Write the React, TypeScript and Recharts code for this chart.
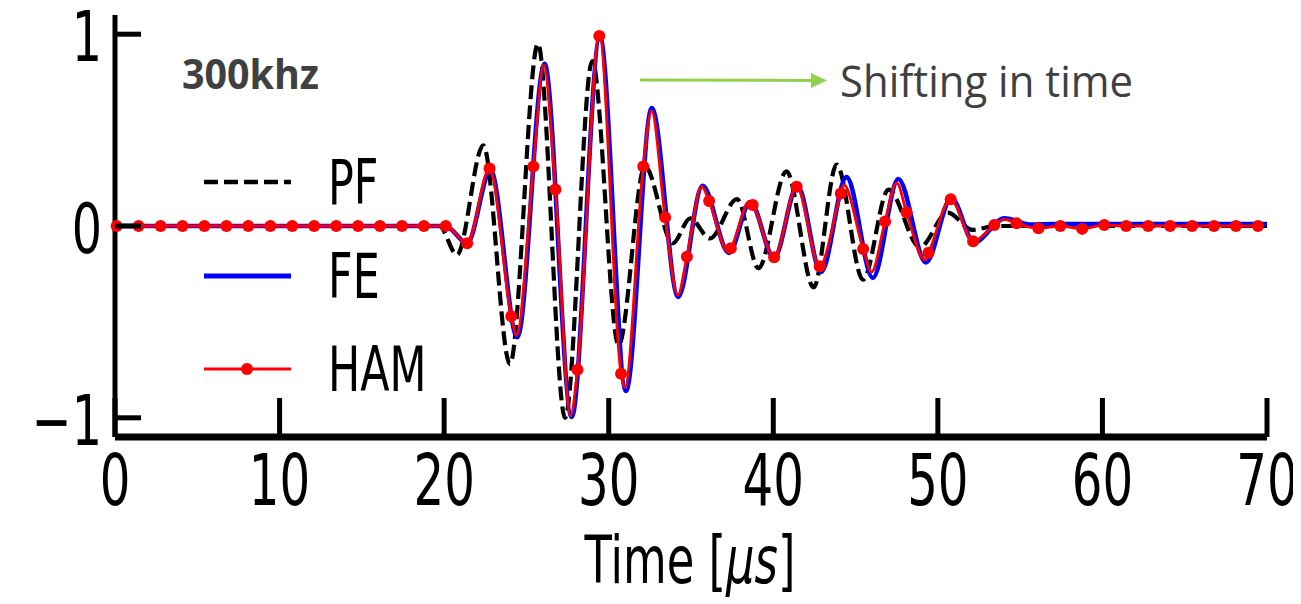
import React from 'react';
import { LineChart, Line, XAxis, YAxis } from 'recharts';

// ---- data ----
const pfTime = [0, 19.7, 20.78, 22.38, 24.0, 25.7, 27.35, 29.0, 30.6, 32.2, 33.9, 34.95, 36.15, 37.8, 39.1, 40.8, 42.45, 43.85, 45.45, 47.0, 48.9, 50.6, 52.1, 53.5, 70];
const pfValue = [0, 0, -0.15, 0.42, -0.72, 0.95, -1.0, 0.86, -0.62, 0.31, -0.09, 0.04, -0.065, 0.14, -0.22, 0.285, -0.32, 0.32, -0.28, 0.19, -0.11, 0.07, -0.02, 0, 0];

const feTime = [0, 19.7, 20.2, 21.4, 22.82, 24.45, 26.1, 27.75, 29.47, 31.05, 32.62, 34.22, 35.7, 37.3, 38.6, 40.05, 41.47, 42.9, 44.45, 46.05, 47.6, 49.27, 50.82, 52.2, 54.05, 55.6, 57, 70];
const feValue = [0, 0, -0.005, -0.09, 0.29, -0.58, 0.845, -0.995, 0.985, -0.86, 0.615, -0.37, 0.21, -0.14, 0.125, -0.165, 0.21, -0.24, 0.255, -0.27, 0.245, -0.19, 0.145, -0.085, 0.04, 0.008, 0.01, 0.01];

const hamTime = [24.4, 26.05, 27.68, 30.98, 32.6, 34.2, 35.65, 37.25, 38.55, 44.28, 45.97, 47.5, 49.2, 54.05];
const hamValue = [-0.57, 0.84, -0.99, -0.84, 0.6, -0.36, 0.205, -0.134, 0.128, 0.215, -0.24, 0.225, -0.177, 0.035];

const hamMarkerTime = [0.1, 1.43, 2.77, 4.1, 5.43, 6.77, 8.1, 9.44, 10.77, 12.1, 13.44, 14.77, 16.1, 17.44, 18.77, 20.1, 21.4, 22.76, 24.08, 25.42, 26.76, 28.1, 29.43, 30.75, 32.1, 33.43, 34.75, 36.1, 37.42, 38.75, 40.05, 41.42, 42.82, 44.1, 45.46, 46.79, 48.1, 49.43, 50.78, 52.14, 53.43, 54.78, 56.11, 57.44, 58.77, 60.11, 61.44, 62.78, 64.11, 65.45, 66.78, 68.11, 69.45];
const hamMarkerValue = [0, 0, 0, 0, 0, 0, 0, 0, 0, 0, 0, 0, 0, 0, 0, 0, -0.09, 0.3, -0.47, 0.31, 0.19, -0.75, 0.99, -0.77, 0.31, 0.045, -0.16, 0.13, -0.116, 0.11, -0.163, 0.205, -0.21, 0.17, -0.12, 0.023, 0.07, -0.14, 0.14, -0.08, 0.005, 0.014, -0.012, 0, -0.015, 0.005, 0, 0, 0, 0, 0, 0, 0];

const xTicks = [0, 10, 20, 30, 40, 50, 60, 70];
const yTicks = [-1, 0, 1];
const seriesNames = ['PF', 'FE', 'HAM'];
const seriesColors = ['#000000', '#0000ff', '#ff0000'];
const xTitle = 'Time [';
const xTitleUnit = 'μs';
const freqLabel = '300khz';
const noteLabel = 'Shifting in time';

const zip = (ts: number[], vs: number[]) => ts.map((t, i) => ({ t, v: vs[i] }));
const pfData = zip(pfTime, pfValue);
const feData = zip(feTime, feValue);
const hamData = [
  ...zip(hamTime, hamValue).map((d) => ({ ...d, m: false })),
  ...zip(hamMarkerTime, hamMarkerValue).map((d) => ({ ...d, m: true })),
].sort((a, b) => a.t - b.t);

const SX = 0.68;
const FONT = 'DejaVu Sans';
const PF_DASH = '14 6';

const fmt = (v: number) => (v < 0 ? '\u2212' + Math.abs(v) : String(v));

const YTick = (props: any) => {
  const { x, y, payload } = props;
  return (
    <g>
      <line x1={x} x2={x + 26} y1={y} y2={y} stroke="#000" strokeWidth={5} />
      <text
        transform={`translate(${x - 13},${y + 27}) scale(${SX},1)`}
        textAnchor="end"
        fontFamily={FONT}
        fontSize={70}
        fill="#000"
      >
        {fmt(payload.value)}
      </text>
    </g>
  );
};

const XTick = (props: any) => {
  const { x, y, payload } = props;
  return (
    <g>
      <line x1={x} x2={x} y1={y} y2={y - 39} stroke="#000" strokeWidth={5} />
      <text
        transform={`translate(${x},${y + 68}) scale(${SX},1)`}
        textAnchor="middle"
        fontFamily={FONT}
        fontSize={71}
        fill="#000"
      >
        {fmt(payload.value)}
      </text>
    </g>
  );
};

const HamDot = (props: any) => {
  const { cx, cy, payload, index } = props;
  if (!payload || !payload.m) return <g key={`d${index}`} />;
  return <circle key={`d${index}`} cx={cx} cy={cy} r={6} fill="#ff0000" stroke="none" />;
};

const legendRows = [
  { y: 174, dash: PF_DASH, width: 4.5, dot: false },
  { y: 268, dash: undefined, width: 5, dot: false },
  { y: 361, dash: undefined, width: 3, dot: true },
];

export default function App() {
  return (
    <div style={{ position: 'relative', width: 1293, height: 596 }}>
      <LineChart
        width={1293}
        height={596}
        margin={{ top: 7, right: 34, left: 0, bottom: 0 }}
        style={{ overflow: 'visible' }}
      >
        <XAxis
          dataKey="t"
          type="number"
          domain={[0, 70]}
          ticks={xTicks}
          height={167}
          tickSize={0}
          tickMargin={0}
          tickLine={false}
          axisLine={{ stroke: '#000', strokeWidth: 7 }}
          tick={<XTick />}
          interval={0}
        />
        <YAxis
          type="number"
          domain={[-1.1, 1.1]}
          ticks={yTicks}
          width={107}
          tickSize={0}
          tickMargin={0}
          tickLine={false}
          axisLine={{ stroke: '#000', strokeWidth: 5 }}
          tick={<YTick />}
          interval={0}
          allowDataOverflow
        />
        <Line
          data={pfData}
          dataKey="v"
          name={seriesNames[0]}
          type="monotone"
          stroke={seriesColors[0]}
          strokeWidth={4.2}
          strokeDasharray={PF_DASH}
          dot={false}
          activeDot={false}
          isAnimationActive={false}
        />
        <Line
          data={feData}
          dataKey="v"
          name={seriesNames[1]}
          type="monotone"
          stroke={seriesColors[1]}
          strokeWidth={4.6}
          dot={false}
          activeDot={false}
          isAnimationActive={false}
        />
        <Line
          data={hamData}
          dataKey="v"
          name={seriesNames[2]}
          type="monotone"
          stroke={seriesColors[2]}
          strokeWidth={2.8}
          dot={HamDot}
          activeDot={false}
          isAnimationActive={false}
        />
      </LineChart>
      <svg
        width={1293}
        height={596}
        style={{ position: 'absolute', left: 0, top: 0, pointerEvents: 'none' }}
      >
        {legendRows.map((r, i) => (
          <g key={seriesNames[i]}>
            <line
              x1={196}
              x2={283}
              y1={r.y}
              y2={r.y}
              stroke={seriesColors[i]}
              strokeWidth={r.width}
              strokeDasharray={r.dash}
            />
            {r.dot && <circle cx={239} cy={r.y} r={6} fill={seriesColors[i]} />}
            <text
              transform={`translate(320,${r.y + 22}) scale(${SX},1)`}
              fontFamily={FONT}
              fontSize={63}
              fill="#000"
            >
              {seriesNames[i]}
            </text>
          </g>
        ))}
        <text
          transform={`translate(682,575) scale(${SX},1)`}
          textAnchor="middle"
          fontFamily={FONT}
          fontSize={66}
          fill="#000"
        >
          {xTitle}
          <tspan fontStyle="italic">{xTitleUnit}</tspan>]
        </text>
        <text
          x={174}
          y={81}
          fontFamily="Open Sans"
          fontWeight={700}
          fontSize={42}
          fill="#404040"
          textLength={137}
          lengthAdjust="spacingAndGlyphs"
        >
          {freqLabel}
        </text>
        <line x1={632} x2={806} y1={72} y2={72.5} stroke="#92d050" strokeWidth={3} />
        <polygon points="803,65 819,72.5 803,80" fill="#92d050" />
        <text
          x={832}
          y={89}
          fontFamily="Open Sans"
          fontSize={43}
          fill="#404040"
          textLength={293}
          lengthAdjust="spacingAndGlyphs"
        >
          {noteLabel}
        </text>
      </svg>
    </div>
  );
}
